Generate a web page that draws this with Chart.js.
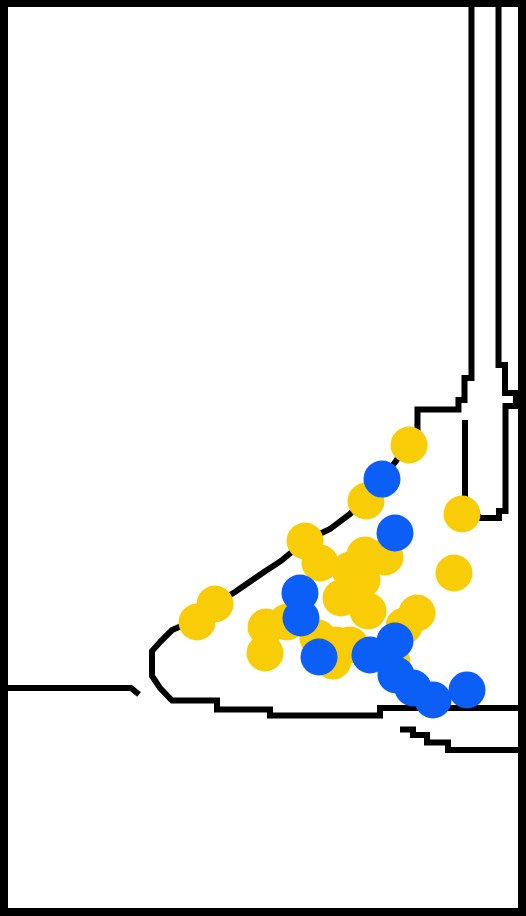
<!DOCTYPE html>
<html>
<head>
<meta charset="utf-8">
<script src="https://cdn.jsdelivr.net/npm/chart.js@4/dist/chart.umd.min.js"></script>
<style>
  html, body { margin: 0; padding: 0; background: #fff; }
  #frame {
    width: 526px; height: 916px; box-sizing: border-box;
    border-style: solid; border-color: #000;
    border-width: 7px 8px 8px 8px;
    background: #fff;
  }
  #c { display: block; }
</style>
</head>
<body>
<div id="frame"><canvas id="c" width="510" height="901"></canvas></div>
<script>
// ---- data (feature space units) ----
const yellowX = [7.863, 7.020, 8.902, 8.745, 5.824, 6.118, 6.706, 7.000, 7.392, 6.941, 6.529, 7.059,
                 8.020, 7.765, 4.059, 3.706, 5.059, 5.039, 5.471, 6.078, 6.431, 6.373, 6.706, 7.529];
const yellowY = [5.139, 4.517, 4.373, 3.718, 4.073, 3.829, 3.751, 3.918, 3.896, 3.640, 3.441, 3.296,
                 3.274, 3.130, 3.374, 3.174, 3.119, 2.830, 3.174, 2.997, 2.919, 2.741, 2.919, 2.730];

const blueX = [7.333, 7.588, 5.725, 5.745, 6.098, 7.098, 7.588, 7.608, 7.941, 8.333, 9.000];
const blueY = [4.761, 4.162, 3.496, 3.219, 2.786, 2.808, 2.963, 2.586, 2.442, 2.309, 2.420];

// decision-boundary contour lines
const boundaryLeft = [[-0.255, 2.442], [2.412, 2.442], [2.569, 2.370]];
const boundaryOuter = [
  [9.088, 10.189], [9.088, 5.882], [8.951, 5.882], [8.951, 5.638], [8.833, 5.638], [8.833, 5.533],
  [8.029, 5.533], [8.029, 5.305], [7.608, 4.961], [7.294, 4.728], [6.706, 4.373], [6.314, 4.206],
  [5.824, 4.073], [5.353, 3.852], [5.020, 3.729], [4.706, 3.607], [4.451, 3.507], [4.059, 3.374],
  [3.490, 3.152], [3.216, 3.085], [3.000, 2.963], [2.824, 2.852], [2.824, 2.575], [2.980, 2.442],
  [3.216, 2.303], [4.098, 2.303], [4.098, 2.203], [5.137, 2.203], [5.137, 2.137], [7.294, 2.137],
  [7.294, 2.220], [10.235, 2.220]
];
const boundaryInner = [
  [9.618, 10.189], [9.618, 6.027], [9.745, 6.027], [9.745, 5.716], [9.960, 5.716], [9.960, 5.572],
  [9.755, 5.572], [9.755, 4.406], [9.627, 4.406], [9.627, 4.329], [9.255, 4.329], [8.961, 4.528],
  [8.961, 5.416]
];
const boundaryLower = [
  [7.686, 1.981], [7.941, 1.981], [7.941, 1.920], [8.216, 1.920], [8.216, 1.837], [8.627, 1.837],
  [8.627, 1.754], [10.235, 1.754]
];

const xRange = [0, 10];
const yRange = [0, 10];

// ---- build ----
const pts = (xs, ys) => xs.map((x, i) => ({ x: x, y: ys[i] }));
const line = arr => arr.map(p => ({ x: p[0], y: p[1] }));

const lineStyle = {
  type: 'line',
  showLine: true,
  borderColor: '#000',
  borderWidth: 6,
  pointRadius: 0,
  fill: false,
  tension: 0,
  borderJoinStyle: 'miter',
  borderCapStyle: 'butt',
  order: 3
};

new Chart(document.getElementById('c'), {
  type: 'scatter',
  data: {
    datasets: [
      { ...lineStyle, label: 'b0', data: line(boundaryLeft) },
      { ...lineStyle, label: 'b1', data: line(boundaryOuter) },
      { ...lineStyle, label: 'b2', data: line(boundaryInner) },
      { ...lineStyle, label: 'b3', data: line(boundaryLower) },
      { label: 'class 0', data: pts(yellowX, yellowY), backgroundColor: '#F8CC06',
        borderWidth: 0, pointRadius: 18.5, order: 2 },
      { label: 'class 1', data: pts(blueX, blueY), backgroundColor: '#0B5EF6',
        borderWidth: 0, pointRadius: 18.5, order: 1 }
    ]
  },
  options: {
    responsive: false,
    animation: false,
    events: [],
    layout: { padding: 0, autoPadding: false },
    plugins: { legend: { display: false }, tooltip: { enabled: false } },
    scales: {
      x: { type: 'linear', min: xRange[0], max: xRange[1], display: false },
      y: { type: 'linear', min: yRange[0], max: yRange[1], display: false }
    }
  }
});
</script>
</body>
</html>
